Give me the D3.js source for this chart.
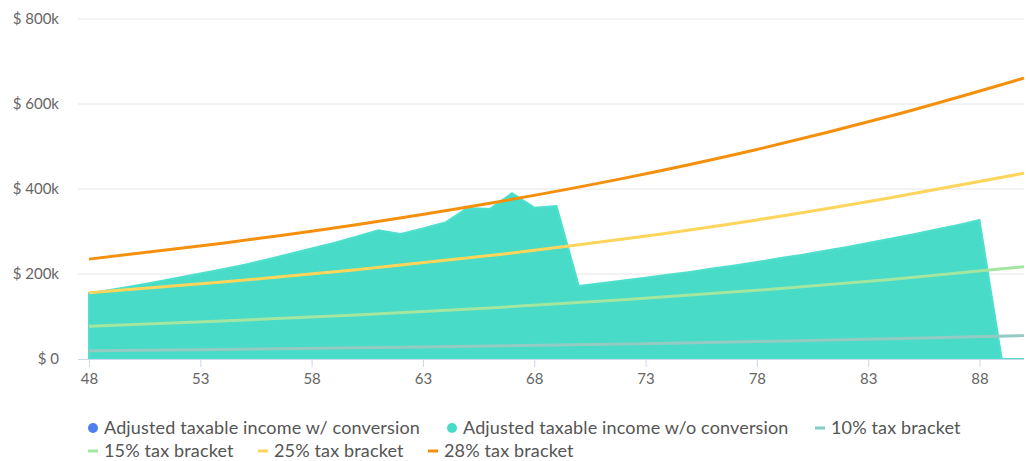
<!DOCTYPE html>
<html>
<head>
<meta charset="utf-8">
<script src="https://cdn.jsdelivr.net/npm/d3@7"></script>
<style>
  body { margin: 0; background: #fff; font-family: Lato, 'Open Sans', sans-serif; }
  svg { display: block; }
</style>
</head>
<body>
<script>
// ages and income without conversion ($k)
const ages = d3.range(48, 91)
const incomeNoConversion = [
  155, 163, 172, 181, 191, 201, 211, 222, 234, 247, 260, 273, 288, 303,
  294, 307, 321, 355, 353, 390, 356, 360,
  172, 178, 185, 191, 198, 205, 213, 220, 228, 237, 245, 254, 263, 273, 283, 293, 304, 315, 327,
  0, 0
]

// tax bracket upper limits ($k), read every 6 years
const bracketAges = [48, 54, 60, 66, 72, 78, 84, 90]
const bracket10 = [19.5, 22.6, 26.2, 30.4, 35.3, 40.9, 47.4, 55]
const bracket15 = [77, 89.3, 103.6, 120.1, 139.3, 161.5, 187.3, 217]
const bracket25 = [156, 180.9, 209.8, 243.3, 282.1, 327.2, 379.4, 437]
const bracket28 = [235, 272.5, 316, 366.5, 425, 493, 571.6, 661]

const yTicks = [0, 200, 400, 600, 800]
const xTicks = [48, 53, 58, 63, 68, 73, 78, 83, 88]

const W = 1026, H = 461
const svg = d3.select('body').append('svg').attr('width', W).attr('height', H)

const x = d3.scaleLinear().domain([48, 90]).range([89, 1024])
const y = d3.scaleLinear().domain([0, 800]).range([359, 19])

// grid
svg.append('g')
  .selectAll('line')
  .data(yTicks.slice(1))
  .enter()
  .append('line')
  .attr('x1', 78).attr('x2', 1024)
  .attr('y1', d => y(d)).attr('y2', d => y(d))
  .attr('stroke', '#e6e6e6')

svg.append('g')
  .selectAll('text')
  .data(yTicks)
  .enter()
  .append('text')
  .attr('x', 59)
  .attr('y', d => y(d) + 5)
  .attr('text-anchor', 'end')
  .attr('fill', '#666')
  .style('font-size', '15px')
  .text(d => d === 0 ? '$ 0' : `$ ${d}k`)

// area
const area = d3.area()
  .x((d, i) => x(ages[i]))
  .y0(y(0))
  .y1(d => y(d))
svg.append('path')
  .datum(incomeNoConversion)
  .attr('d', area)
  .attr('fill', '#48dbc8')
  .attr('stroke', '#4ee0cc')
  .attr('stroke-width', 2)

// x axis
const xAxis = svg.append('g')
  .attr('transform', `translate(0,${y(0)})`)
  .call(d3.axisBottom(x).tickValues(xTicks).tickSize(8).tickPadding(6))
xAxis.select('.domain').attr('d', 'M78,0.5H1024').attr('stroke', '#ccd6eb')
xAxis.selectAll('.tick line').attr('stroke', '#ccd6eb')
xAxis.selectAll('.tick text')
  .attr('fill', '#666')
  .style('font-size', '15px')
  .style('font-family', 'Lato, sans-serif')

// bracket lines
const brackets = [
  { name: '10% tax bracket', values: bracket10, color: '#93cbc3' },
  { name: '15% tax bracket', values: bracket15, color: '#a3e6a0' },
  { name: '25% tax bracket', values: bracket25, color: '#fdd55a' },
  { name: '28% tax bracket', values: bracket28, color: '#f5900f' }
]
const line = d3.line()
  .x((d, i) => x(bracketAges[i]))
  .y(d => y(d))
  .curve(d3.curveMonotoneX)
svg.append('g')
  .selectAll('path')
  .data(brackets)
  .enter()
  .append('path')
  .attr('d', d => line(d.values))
  .attr('fill', 'none')
  .attr('stroke', d => d.color)
  .attr('stroke-width', 3)

// legend
const legendItems = [
  { name: 'Adjusted taxable income w/ conversion', type: 'dot', color: '#4f7ff0', x: 88, y: 428 },
  { name: 'Adjusted taxable income w/o conversion', type: 'dot', color: '#48dbc8', x: 447, y: 428 },
  { name: '10% tax bracket', type: 'dash', color: '#7fcfc2', x: 815, y: 428 },
  { name: '15% tax bracket', type: 'dash', color: '#a3e6a0', x: 88, y: 451 },
  { name: '25% tax bracket', type: 'dash', color: '#fdd55a', x: 258, y: 451 },
  { name: '28% tax bracket', type: 'dash', color: '#f5900f', x: 428, y: 451 }
]
const legend = svg.append('g')
  .selectAll('g')
  .data(legendItems)
  .enter()
  .append('g')
  .attr('transform', d => `translate(${d.x},${d.y})`)
legend.filter(d => d.type === 'dot')
  .append('circle')
  .attr('cx', 5).attr('cy', 0).attr('r', 5)
  .attr('fill', d => d.color)
legend.filter(d => d.type === 'dash')
  .append('line')
  .attr('x1', 0).attr('x2', 10).attr('y1', 0).attr('y2', 0)
  .attr('stroke', d => d.color)
  .attr('stroke-width', 3)
legend.append('text')
  .attr('x', 16)
  .attr('y', 6)
  .attr('fill', '#555')
  .style('font-size', '18px')
  .style('letter-spacing', '0.15px')
  .text(d => d.name)
</script>
</body>
</html>
